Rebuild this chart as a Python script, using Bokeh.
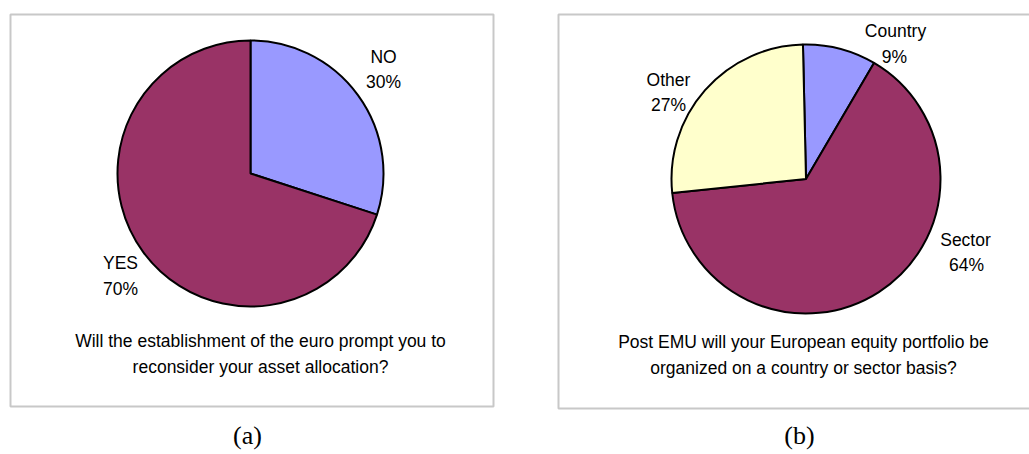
import numpy as np
from bokeh.plotting import figure
from bokeh.models import Range1d, ColumnDataSource
from bokeh.core.properties import value
from bokeh.embed import file_html
from bokeh.resources import INLINE

# ---- data ----
a_categories = ["NO", "YES"]
a_values = [30.0, 70.0]
a_labels = ["30%", "70%"]
a_colors = ["#9999FF", "#993366"]
a_caption = ["Will the establishment of the euro prompt you to",
             "reconsider your asset allocation?"]

b_categories = ["Country", "Sector", "Other"]
b_values = [8.8, 64.9, 26.3]
b_labels = ["9%", "64%", "27%"]
b_colors = ["#9999FF", "#993366", "#FFFFCC"]
b_caption = ["Post EMU will your European equity portfolio be",
             "organized on a country or sector basis?"]

panel_tags = ["(a)", "(b)"]

W, H = 1029, 454
FONT = value("Liberation Sans")


def Y(y):
    return H - y


p = figure(width=W, height=H, x_range=Range1d(0, W), y_range=Range1d(0, H),
           output_backend="svg", toolbar_location=None, min_border=0)
p.axis.visible = False
p.grid.visible = False
p.outline_line_color = None
p.background_fill_color = "white"

# panel frames
p.quad(left=[10, 558], right=[493, 1040], top=[Y(14), Y(14)], bottom=[Y(406), Y(408)],
       fill_color=None, line_color="#c8c8c8", line_width=2)


def pie(cx, cy, r, vals, colors, start_deg):
    vals = np.asarray(vals, dtype=float)
    frac = vals / vals.sum() * 360.0
    ends = start_deg + np.cumsum(frac)
    starts = ends - frac
    # clockwise-from-top -> math angle
    src = ColumnDataSource(dict(
        start=np.radians(90 - ends), end=np.radians(90 - starts),
        color=colors))
    p.wedge(x=cx, y=Y(cy), radius=r, start_angle="start", end_angle="end",
            fill_color="color", line_color="black", line_width=2, source=src)


pie(250, 173, 133, a_values, a_colors, 0.0)
pie(805.5, 178.5, 134.5, b_values, b_colors, -1.3)


def txt(xs, ys, texts, size="17.5px", font=FONT, baseline="middle"):
    p.text(x=xs, y=[Y(v) for v in ys], text=texts, text_font=font,
           text_font_size=size, text_align="center", text_baseline=baseline,
           text_color="black")


# slice labels
txt([383, 383, 120, 120], [56, 81, 262, 288],
    [a_categories[0], a_labels[0], a_categories[1], a_labels[1]])
txt([895, 894, 965, 966, 668, 668], [30, 56, 239, 264, 79, 104],
    [b_categories[0], b_labels[0], b_categories[1], b_labels[1],
     b_categories[2], b_labels[2]])

# captions
txt([260, 260], [340, 366], a_caption)
txt([803, 803], [341, 367], b_caption)

# panel tags
txt([247, 799], [435, 435], panel_tags, size="26px",
    font=value("Liberation Serif"), baseline="middle")

open("out.html", "w").write(file_html(p, INLINE))
